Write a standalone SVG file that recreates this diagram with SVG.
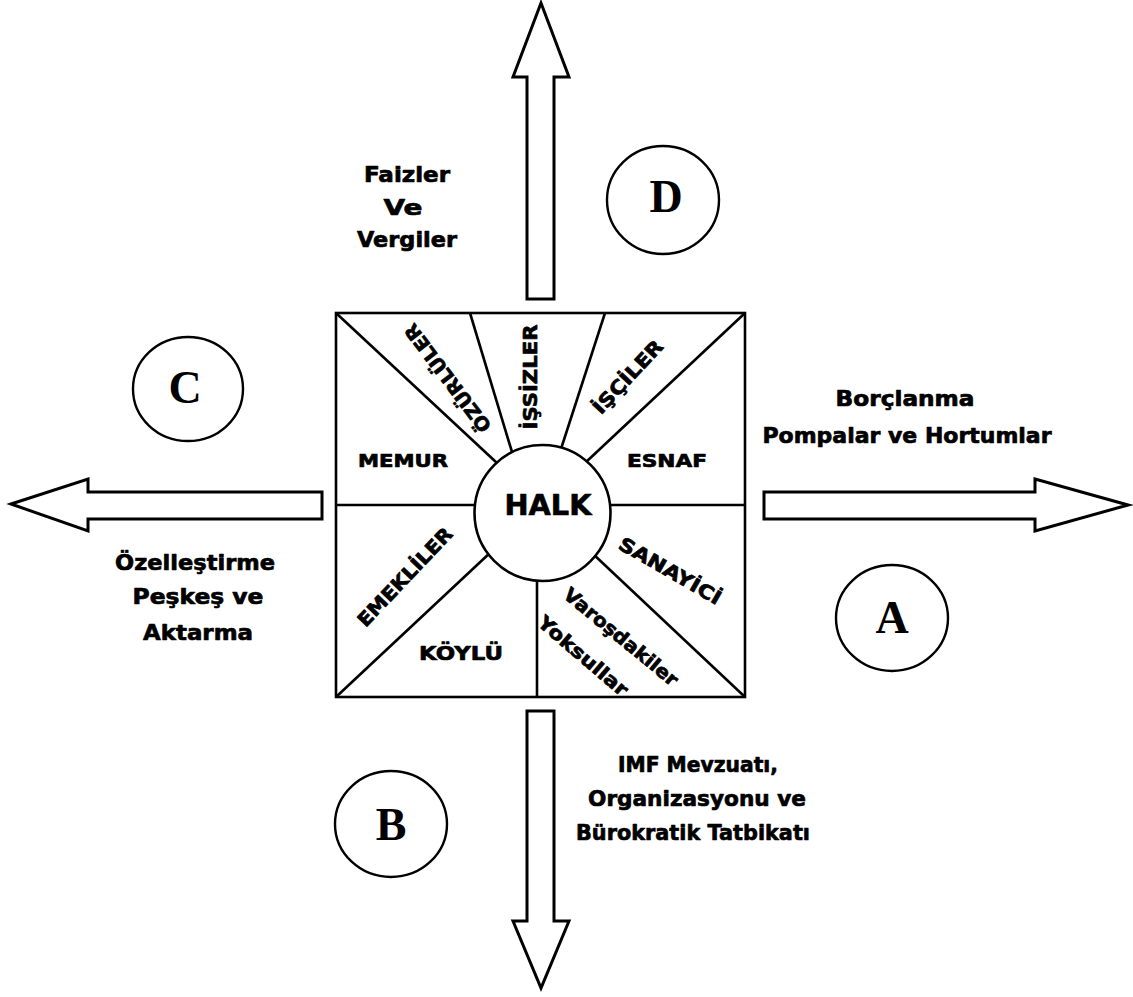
<svg xmlns="http://www.w3.org/2000/svg" width="1133" height="997" viewBox="0 0 1133 997">
<style>
.ln{stroke:#000;stroke-width:2.6;fill:none}
.ar{stroke:#000;stroke-width:3;fill:#fff;stroke-linejoin:miter}
.lt{font-family:"DejaVu Sans","Liberation Sans",sans-serif;font-weight:bold;fill:#000;stroke:#000;stroke-width:0.7;stroke-linejoin:round;text-anchor:middle}
.big{font-family:"Liberation Serif","Times New Roman",serif;font-weight:bold;font-size:46px;fill:#000;text-anchor:middle}
.oc{stroke:#000;stroke-width:2.4;fill:#fff}
</style>
<rect width="1133" height="997" fill="#fff"/>
<g id="connectors">
<polygon class="ar" points="541,3 569,77 554,77 554,299 527,299 527,77 513,77"/>
<polygon class="ar" points="527,711 554,711 554,921 569,921 541,988 513,921 527,921"/>
<polygon class="ar" points="11,504 88,479 88,492 322,492 322,519 88,519 88,531"/>
<polygon class="ar" points="764,492 1035,492 1035,479 1128,505 1035,531 1035,519 764,519"/>
</g>
<g id="halk-box">
<rect class="ln" x="336" y="313" width="409" height="384"/>
<line class="ln" x1="336" y1="313" x2="497" y2="463"/>
<line class="ln" x1="470" y1="313" x2="512" y2="452"/>
<line class="ln" x1="605" y1="313" x2="560" y2="452"/>
<line class="ln" x1="745" y1="313" x2="585" y2="463"/>
<line class="ln" x1="336" y1="505" x2="478" y2="505"/>
<line class="ln" x1="607" y1="505" x2="745" y2="505"/>
<line class="ln" x1="336" y1="697" x2="492" y2="551"/>
<line class="ln" x1="537" y1="578" x2="537" y2="697"/>
<line class="ln" x1="592" y1="553" x2="745" y2="697"/>
</g>
<g id="halk">
<circle cx="542.5" cy="513" r="68" fill="#fff" stroke="#000" stroke-width="2.6"/>
<text class="lt" x="548" y="515" font-size="29" stroke-width="1.4" textLength="87" lengthAdjust="spacingAndGlyphs">HALK</text>
</g>
<g id="memur"><text class="lt" x="403" y="467" font-size="18" textLength="90" lengthAdjust="spacingAndGlyphs">MEMUR</text></g>
<g id="esnaf"><text class="lt" x="667" y="467" font-size="18" textLength="80" lengthAdjust="spacingAndGlyphs">ESNAF</text></g>
<g id="koylu"><text class="lt" x="461" y="660" font-size="19" textLength="84" lengthAdjust="spacingAndGlyphs">KÖYLÜ</text></g>
<g id="issizler"><text class="lt" transform="translate(530,377) rotate(-90)" x="0" y="7" font-size="19" textLength="105" lengthAdjust="spacingAndGlyphs">İŞSİZLER</text></g>
<g id="ozurluler"><text class="lt" transform="translate(448,378) rotate(-127)" x="0" y="6.5" font-size="19" textLength="130" lengthAdjust="spacingAndGlyphs">ÖZÜRLÜLER</text></g>
<g id="isciler"><text class="lt" transform="translate(628,377) rotate(-47)" x="0" y="6.5" font-size="19" textLength="93" lengthAdjust="spacingAndGlyphs">İŞÇİLER</text></g>
<g id="emekliler"><text class="lt" transform="translate(405,577) rotate(-46.5)" x="0" y="6.5" font-size="19" textLength="128" lengthAdjust="spacingAndGlyphs">EMEKLİLER</text></g>
<g id="sanayici"><text class="lt" transform="translate(670,571) rotate(30)" x="0" y="6.5" font-size="19" textLength="115" lengthAdjust="spacingAndGlyphs">SANAYİCİ</text></g>
<g id="varosdakiler">
<text class="lt" transform="translate(621,637) rotate(39.5)" x="0" y="6.5" font-size="19" textLength="142" lengthAdjust="spacingAndGlyphs">Varoşdakiler</text>
<text class="lt" transform="translate(583,656) rotate(40.5)" x="0" y="6.5" font-size="19" textLength="112" lengthAdjust="spacingAndGlyphs">Yoksullar</text>
</g>
<g id="label-d">
<text class="lt" x="407" y="182" font-size="22" textLength="86" lengthAdjust="spacingAndGlyphs">Faizler</text>
<text class="lt" x="403" y="215" font-size="22" textLength="39" lengthAdjust="spacingAndGlyphs">Ve</text>
<text class="lt" x="407" y="247" font-size="22" textLength="100" lengthAdjust="spacingAndGlyphs">Vergiler</text>
</g>
<g id="label-a">
<text class="lt" x="905" y="406" font-size="22" textLength="139" lengthAdjust="spacingAndGlyphs">Borçlanma</text>
<text class="lt" x="907" y="443" font-size="22" textLength="289" lengthAdjust="spacingAndGlyphs">Pompalar ve Hortumlar</text>
</g>
<g id="label-c">
<text class="lt" x="195" y="570" font-size="22" textLength="160" lengthAdjust="spacingAndGlyphs">Özelleştirme</text>
<text class="lt" x="198" y="604" font-size="22" textLength="131" lengthAdjust="spacingAndGlyphs">Peşkeş ve</text>
<text class="lt" x="198" y="640" font-size="22" textLength="110" lengthAdjust="spacingAndGlyphs">Aktarma</text>
</g>
<g id="label-b">
<text class="lt" x="698" y="772" font-size="22" textLength="160" lengthAdjust="spacingAndGlyphs">IMF Mevzuatı,</text>
<text class="lt" x="697" y="806" font-size="22" textLength="218" lengthAdjust="spacingAndGlyphs">Organizasyonu ve</text>
<text class="lt" x="693" y="840" font-size="22" textLength="234" lengthAdjust="spacingAndGlyphs">Bürokratik Tatbikatı</text>
</g>
<g id="circle-d"><ellipse class="oc" cx="663" cy="200" rx="56" ry="54"/><text class="big" x="666" y="212">D</text></g>
<g id="circle-c"><ellipse class="oc" cx="188" cy="389" rx="55" ry="52"/><text class="big" x="185" y="403">C</text></g>
<g id="circle-b"><ellipse class="oc" cx="391" cy="824" rx="56" ry="53"/><text class="big" x="391" y="840">B</text></g>
<g id="circle-a"><ellipse class="oc" cx="892" cy="618" rx="56" ry="53"/><text class="big" x="892" y="633">A</text></g>
</svg>
